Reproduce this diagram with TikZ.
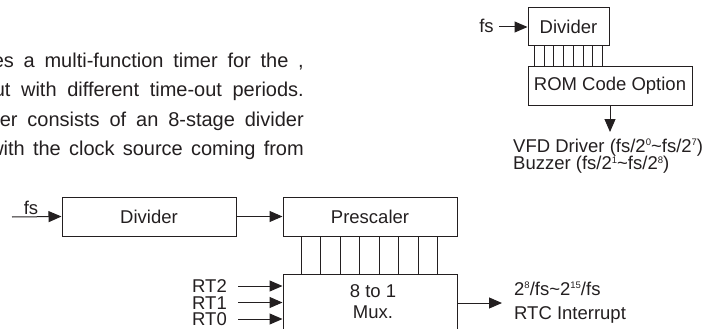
\documentclass[tikz,border=0pt]{standalone}
\usepackage{fontspec}
\setmainfont{Liberation Sans}
\usetikzlibrary{arrows.meta}
\definecolor{ink}{RGB}{35,31,32}
\newcommand\dgmfont{\fontsize{18.5}{21}\selectfont}
\newcommand\parafont{\fontsize{20}{24}\selectfont}
\newcommand\supx[1]{\raisebox{6.5pt}{\fontsize{9.5}{9.5}\selectfont #1}}
\begin{document}
\begin{tikzpicture}[x=1pt,y=-1pt,
  box/.style={draw=ink, line width=1pt, inner sep=0pt, font=\dgmfont, text=ink},
  arr/.style={-{Triangle[length=13pt,width=11pt]}, draw=ink, line width=1pt},
  bus/.style={draw=ink, line width=1pt},
  lbl/.style={inner sep=0pt, font=\dgmfont, text=ink},
  para/.style={inner sep=0pt, font=\parafont, text=ink, anchor=base east}]
\useasboundingbox (0,0) rectangle (704,329);
\clip (0,0) rectangle (704,329);

% paragraph (cut at the left edge)
\node[para] (p1) at (304,67.5) {\makebox[311pt][s]{es a multi-function timer for the ,}};
\node[para] (p2) at (304,96.5) {\makebox[310pt][s]{ut with different time-out periods.}};
\node[para] (p3) at (304,126) {\makebox[304pt][s]{er consists of an 8-stage divider}};
\node[para] (p4) at (304,155) {\makebox[314.5pt][s]{with the clock source coming from}};

% upper right diagram
\node[box, minimum width=81pt, minimum height=38pt] (tdiv) at (568.5,27) {Divider};
\node[box, minimum width=164pt, minimum height=38pt] (rom) at (610,86) {ROM Code Option};
\node[lbl, anchor=base] (tfs) at (486.5,33) {fs};
\coordinate (tfsin) at (499,27);
\draw[arr] (tfsin) -- (tdiv.west);
\foreach \i in {0,...,7}
  \draw[bus] ([xshift={7pt+9.71pt*\i}]tdiv.south west) -- ([xshift={7pt+9.71pt*\i}]rom.north west);
\coordinate (romout) at (610,132);
\draw[arr] (rom.south) -- (romout);
\node[lbl, anchor=base west] (vfd) at (513,152) {VFD Driver (fs/2\supx{0}\textasciitilde fs/2\supx{7})};
\node[lbl, anchor=base west] (buz) at (513,169.5) {Buzzer (fs/2\supx{1}\textasciitilde fs/2\supx{8})};

% lower diagram
\node[box, minimum width=174pt, minimum height=39pt] (bdiv) at (149,216.5) {Divider};
\node[box, minimum width=174pt, minimum height=39pt] (pre) at (370,216.5) {Prescaler};
\node[box, minimum width=174pt, minimum height=86pt] (mux) at (370,317) {};
\node[lbl, anchor=base] (m1) at (373,297) {8 to 1};
\node[lbl, anchor=base] (m2) at (373,318) {Mux.};
\node[lbl, anchor=base] (bfs) at (31,214) {fs};
\coordinate (bfsin) at (12,217);
\draw[arr] (bfsin) -- (bdiv.west);
\draw[arr] (bdiv.east) -- (pre.west);
\foreach \i in {0,...,7}
  \draw[bus] ([xshift={19pt+19.43pt*\i}]pre.south west) -- ([xshift={19pt+19.43pt*\i}]mux.north west);

\node[lbl, anchor=base east] (rt2) at (227,292.6) {RT2};
\node[lbl, anchor=base east] (rt1) at (227,309.1) {RT1};
\node[lbl, anchor=base east] (rt0) at (227,325.6) {RT0};
\coordinate (rt2s) at (238,286);
\coordinate (rt1s) at (238,302.5);
\coordinate (rt0s) at (238,319);
\draw[arr] (rt2s) -- (rt2s -| mux.west);
\draw[arr] (rt1s) -- (rt1s -| mux.west);
\draw[arr] (rt0s) -- (rt0s -| mux.west);

\coordinate (muxout) at (502,303);
\draw[arr] (muxout -| mux.east) -- (muxout);
\node[lbl, anchor=base west] (o1) at (514,295) {2\supx{8}/fs\textasciitilde 2\supx{15}/fs};
\node[lbl, anchor=base west] (o2) at (514,319) {RTC Interrupt};
\end{tikzpicture}
\end{document}
